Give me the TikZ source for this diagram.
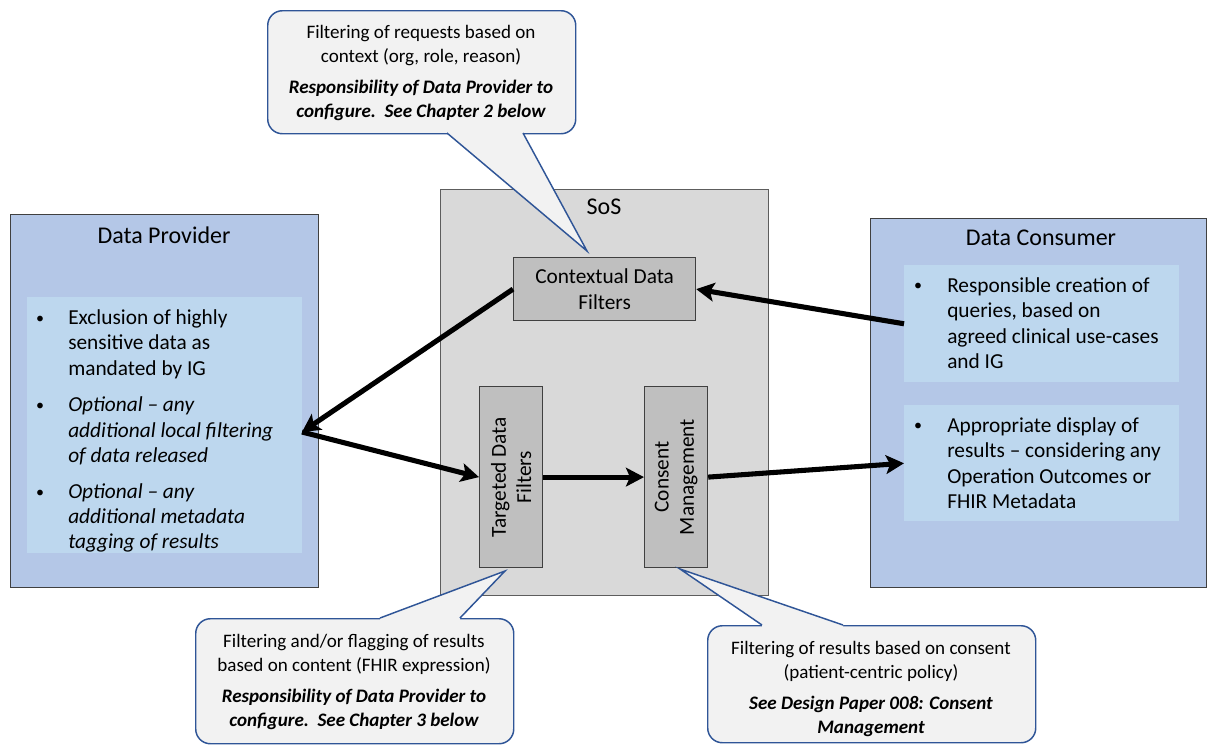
\documentclass[tikz,border=0pt]{standalone}
\usepackage{fontspec}
\setmainfont{Carlito}
\usetikzlibrary{arrows.meta}
\definecolor{sosdark}{HTML}{404040}
\definecolor{partyfill}{HTML}{B4C7E7}
\definecolor{notefill}{HTML}{BDD7EE}
\definecolor{sosfill}{HTML}{D9D9D9}
\definecolor{filterfill}{HTML}{BFBFBF}
\definecolor{callfill}{HTML}{F2F2F2}
\definecolor{callline}{HTML}{2F5597}
\tikzset{
  party/.style={draw=sosdark, line width=1.1pt, fill=partyfill, anchor=north west, inner sep=0pt},
  notebox/.style={fill=notefill, anchor=north west, inner sep=0pt},
  sosbox/.style={draw=sosdark!85, line width=0.9pt, fill=sosfill, anchor=north west, inner sep=0pt},
  filterbox/.style={draw=sosdark, line width=0.9pt, fill=filterfill, anchor=north west, inner sep=0pt},
  headtxt/.style={font=\fontsize{18}{22}\selectfont, inner sep=0pt},
  bodytxt/.style={font=\fontsize{16}{19}\selectfont, align=left, inner sep=0pt, anchor=west},
  bodyit/.style={bodytxt, font=\fontsize{16}{19}\selectfont\itshape},
  bulletdot/.style={font=\fontsize{12}{14}\selectfont, inner sep=0pt},
  boxtxt/.style={font=\fontsize{16}{19}\selectfont, align=center, inner sep=0pt},
  callbox/.style={draw=callline, line width=1.1pt, fill=callfill, rounded corners=11pt, anchor=north west, inner sep=0pt},
  calltxt/.style={font=\fontsize{14.3}{18.2}\selectfont, align=center, inner sep=0pt},
  pointer/.style={draw=callline, line width=1.1pt, line join=miter},
  flow/.style={-{Stealth[length=13.5pt, width=14pt, inset=3pt]}, line width=3.8pt, draw=black},
}
\begin{document}
\begin{tikzpicture}[x=0.75pt, y=-0.75pt]
  \useasboundingbox (0,0) rectangle (1208,744);

  % data provider
  \node[party, minimum width=308*0.75pt, minimum height=373*0.75pt] (dp) at (10,214) {};
  \node[headtxt] (dptitle) at (164,235) {Data Provider};
  \node[notebox, minimum width=275*0.75pt, minimum height=256*0.75pt] (dpnote) at (27,297) {};
  \node[bulletdot] (dpb1) at (40,320) {•};
  \node[bodytxt] (dpi1) at (68,344) {Exclusion of highly\\sensitive data as\\mandated by IG};
  \node[bulletdot] (dpb2) at (40,407) {•};
  \node[bodyit] (dpi2) at (68,431) {Optional – any\\additional local filtering\\of data released};
  \node[bulletdot] (dpb3) at (40,494) {•};
  \node[bodyit] (dpi3) at (68,518) {Optional – any\\additional metadata\\tagging of results};

  % sos
  \node[sosbox, minimum width=328*0.75pt, minimum height=406*0.75pt] (sos) at (440,189) {};
  \node[headtxt] (sostitle) at (604,207) {SoS};
  \node[filterbox, boxtxt, minimum width=182*0.75pt, minimum height=63*0.75pt] (ctx) at (513,257)
    {Contextual Data\\Filters};
  \node[filterbox, minimum width=63*0.75pt, minimum height=181*0.75pt] (tgt) at (479,386) {};
  \node[boxtxt, rotate=90] (tgttxt) at (tgt.center) {Targeted Data\\Filters};
  \node[filterbox, minimum width=63*0.75pt, minimum height=181*0.75pt] (cns) at (644,386) {};
  \node[boxtxt, rotate=90] (cnstxt) at (cns.center) {Consent\\Management};

  % data consumer
  \node[party, minimum width=336*0.75pt, minimum height=369*0.75pt] (dc) at (870,218) {};
  \node[headtxt] (dctitle) at (1041,238) {Data Consumer};
  \node[notebox, minimum width=275*0.75pt, minimum height=117*0.75pt] (dcnote1) at (904,265) {};
  \node[bulletdot] (dcb1) at (918,287) {•};
  \node[bodytxt] (dci1) at (947,323) {Responsible creation of\\queries, based on\\agreed clinical use-cases\\and IG};
  \node[notebox, minimum width=275*0.75pt, minimum height=116*0.75pt] (dcnote2) at (904,405) {};
  \node[bulletdot] (dcb2) at (918,427) {•};
  \node[bodytxt] (dci2) at (947,463) {Appropriate display of\\results – considering any\\Operation Outcomes or\\FHIR Metadata};

  % flows
  \coordinate (dpin) at (302,432);
  \draw[flow] (dcnote1.west) -- (ctx.east);
  \draw[flow] (ctx.west) -- (dpin);
  \draw[flow] (dpin) -- (tgt.west);
  \draw[flow] (tgt.east) -- (cns.west);
  \draw[flow] (cns.east) -- (dcnote2.west);

  % callouts
  \node[callbox, minimum width=308*0.75pt, minimum height=123*0.75pt] (ctxcall) at (267,10) {};
  \coordinate (ctxb1) at (447,133);
  \coordinate (ctxb2) at (523,133);
  \coordinate (ctxtip) at (587,251);
  \fill[callfill] (447,129) -- (ctxb1) -- (ctxtip) -- (ctxb2) -- (523,129) -- cycle;
  \draw[pointer] (ctxb1) -- (ctxtip) -- (ctxb2);
  \node[calltxt] (ctxcalltxt) at (421,73) {Filtering of requests based on\\context (org, role, reason)\\[5pt]
    \bfseries\itshape Responsibility of Data Provider to\\\bfseries\itshape configure.\ \ See Chapter 2 below};

  \node[callbox, minimum width=318*0.75pt, minimum height=125*0.75pt] (tgtcall) at (195,618) {};
  \coordinate (tgtb1) at (380,618);
  \coordinate (tgtb2) at (460,618);
  \coordinate (tgttip) at (505,571);
  \fill[callfill] (380,622) -- (tgtb1) -- (tgttip) -- (tgtb2) -- (460,622) -- cycle;
  \draw[pointer] (tgtb1) -- (tgttip) -- (tgtb2);
  \node[calltxt] (tgtcalltxt) at (354,682) {Filtering and/or flagging of results\\based on content (FHIR expression)\\[5pt]
    \bfseries\itshape Responsibility of Data Provider to\\\bfseries\itshape configure.\ \ See Chapter 3 below};

  \node[callbox, minimum width=328*0.75pt, minimum height=117*0.75pt] (cnscall) at (707,625) {};
  \coordinate (cnsb1) at (762,625);
  \coordinate (cnsb2) at (843,625);
  \coordinate (cnstip) at (680,569);
  \fill[callfill] (762,629) -- (cnsb1) -- (cnstip) -- (cnsb2) -- (843,629) -- cycle;
  \draw[pointer] (cnsb1) -- (cnstip) -- (cnsb2);
  \node[calltxt] (cnscalltxt) at (871,689) {Filtering of results based on consent\\(patient-centric policy)\\[5pt]
    \bfseries\itshape See Design Paper 008: Consent\\\bfseries\itshape Management};
\end{tikzpicture}
\end{document}
